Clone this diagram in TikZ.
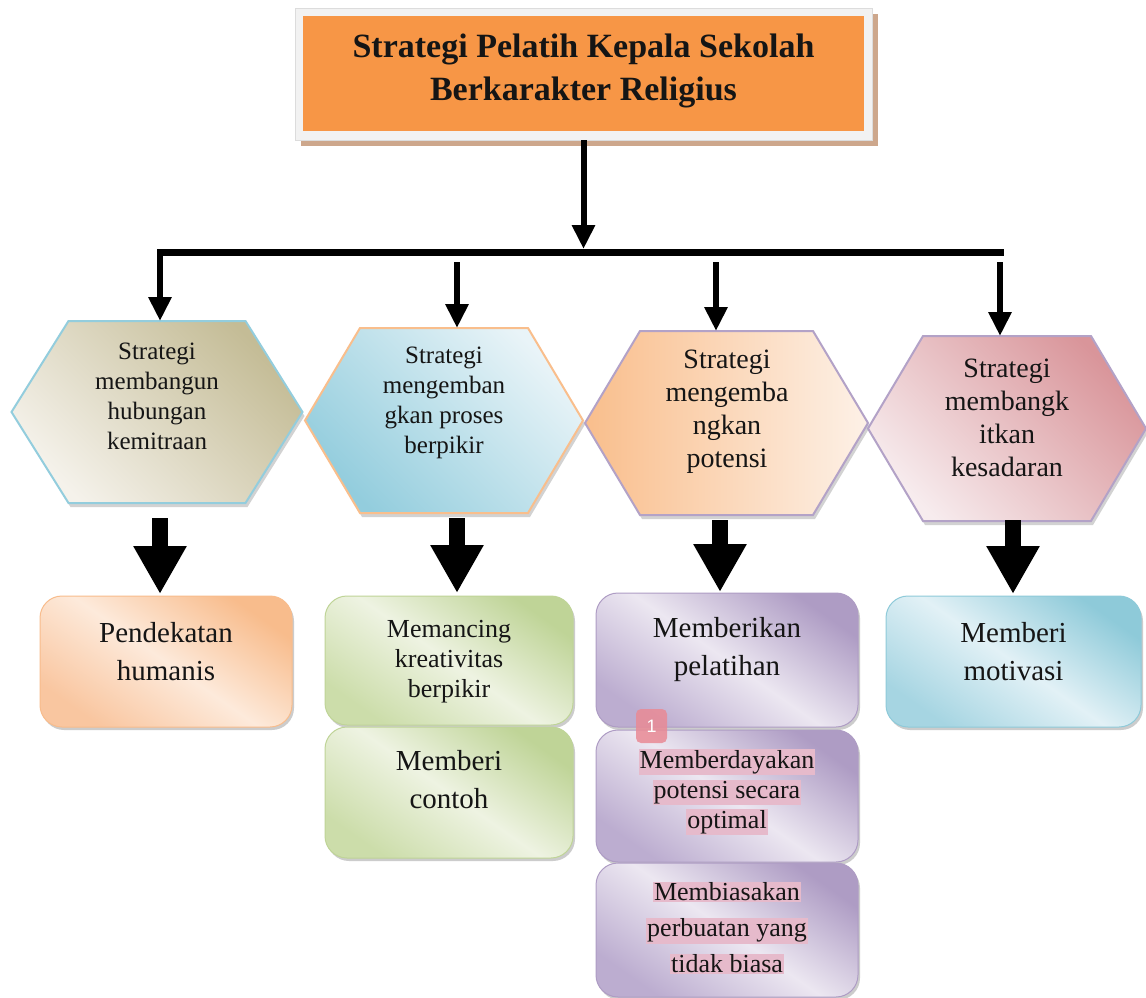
\documentclass[tikz,border=0pt]{standalone}
\usepackage{fontspec}
\setmainfont{Liberation Serif}
\newfontfamily\badgefont{Liberation Sans}
\usetikzlibrary{arrows.meta,shadows,calc}
\definecolor{txt}{HTML}{151515}
\definecolor{titleor}{HTML}{F79646}
\definecolor{frame}{HTML}{F2F2F2}
\definecolor{frameline}{HTML}{DCDCDC}
\definecolor{titleshadow}{HTML}{CDA78C}
\definecolor{tanD}{HTML}{C4BC96}
\definecolor{tanL}{HTML}{F5F2EB}
\definecolor{blueD}{HTML}{93CDDD}
\definecolor{blueL}{HTML}{E9F4F8}
\definecolor{peachD}{HTML}{F9BE8C}
\definecolor{peachL}{HTML}{FDF1E7}
\definecolor{pinkD}{HTML}{D9959A}
\definecolor{pinkL}{HTML}{F7ECEE}
\definecolor{lav}{HTML}{B3A2C7}
\definecolor{orD}{HTML}{F8BC8C}
\definecolor{orM}{HTML}{FDEADB}
\definecolor{orB}{HTML}{F9C6A0}
\definecolor{grD}{HTML}{BFD497}
\definecolor{grM}{HTML}{EEF3E2}
\definecolor{grB}{HTML}{CCDDAA}
\definecolor{puD}{HTML}{AE9CC4}
\definecolor{puM}{HTML}{ECE7F1}
\definecolor{puB}{HTML}{BCADD0}
\definecolor{bbD}{HTML}{8ECAD9}
\definecolor{bbM}{HTML}{E2F1F6}
\definecolor{bbB}{HTML}{A6D5E2}
\definecolor{hl}{HTML}{E6BACB}
\definecolor{badge}{HTML}{E98A95}
\newcommand\hexshape[6]{\path[#6] (#1-#3,#2) -- (#1-#3+#5,#2-#4) -- (#1+#3-#5,#2-#4) -- (#1+#3,#2) -- (#1+#3-#5,#2+#4) -- (#1-#3+#5,#2+#4) -- cycle;}
\newcommand\hlt[1]{{\setlength{\fboxsep}{1pt}\colorbox{hl}{#1}}}
\tikzset{
  thinarr/.style={line width=6pt, -{Triangle[width=22pt,length=24pt]}},
  fatarr/.style={line width=16pt, -{Triangle[width=50pt,length=48pt]}},
  hexbase/.style={line width=2pt, drop shadow={shadow xshift=2pt,shadow yshift=-4pt,opacity=.35}},
  boxbase/.style 2 args={rounded corners=22pt, line width=1pt, minimum width=#1, minimum height=#2, inner sep=0pt,
     drop shadow={shadow xshift=2pt,shadow yshift=-3pt,opacity=.4}},
  hext/.style={align=center, text=txt, inner sep=0pt, font=\fontsize{25}{30}\selectfont},
  hextb/.style={align=center, text=txt, inner sep=0pt, font=\fontsize{28}{33}\selectfont},
  bigt/.style={align=center, text=txt, inner sep=0pt, font=\fontsize{29}{38}\selectfont},
  smallt/.style={align=center, text=txt, inner sep=0pt, font=\fontsize{26}{30}\selectfont},
}
\begin{document}
\begin{tikzpicture}[x=1pt,y=-1pt]
\useasboundingbox[fill=white] (0,0) rectangle (1146,998);
% title
\node[draw=frameline, fill=frame, minimum width=577pt, minimum height=132pt, inner sep=0pt,
      drop shadow={shadow xshift=6pt,shadow yshift=-6pt,opacity=1,fill=titleshadow}] (tf) at (583.5,74) {};
\node[fill=titleor, minimum width=561pt, minimum height=115pt, inner sep=0pt] (tbox) at (583.5,73.5) {};
\node[align=center, text=txt, font=\fontsize{34}{43}\bfseries\selectfont] (title) at (583.5,71) {Strategi Pelatih Kepala Sekolah\\Berkarakter Religius};
% bar
\coordinate (barL) at (157,252);
\coordinate (barR) at (1004,252);
\draw[line width=7pt] (barL) -- (barR);
\draw[thinarr, shorten >=3pt] (tf.south) -- (tf.south |- barL);
% hexagons
\hexshape{157}{412}{145.5}{91}{57}{hexbase, draw=blueD, top color=tanD, bottom color=tanL, shading angle=-45}
\hexshape{444}{420.5}{139}{92.5}{55}{hexbase, draw=peachD, top color=blueL, bottom color=blueD, shading angle=-45}
\hexshape{726.5}{423}{141.5}{92}{55}{hexbase, draw=lav, left color=peachD, right color=peachL}
\hexshape{1007}{428.5}{139}{92.5}{55}{hexbase, draw=lav, top color=pinkD, bottom color=pinkL, shading angle=-45}
\node[hext] (h1) at (157,396) {Strategi\\membangun\\hubungan\\kemitraan};
\node[hext] (h2) at (444,403) {Strategi\\mengemban\\gkan proses\\berpikir};
\node[hextb] (h3) at (727,412) {Strategi\\mengemba\\ngkan\\potensi};
\node[hextb] (h4) at (1007,418) {Strategi\\membangk\\itkan\\kesadaran};
\coordinate (h1top) at (160,321);
\coordinate (h2top) at (457,328);
\coordinate (h3top) at (716,331);
\coordinate (h4top) at (1000,336);
\coordinate (a2s) at (457,262);
\coordinate (a3s) at (716,262);
\coordinate (a4s) at (1000,262);
\coordinate (a1s) at (160,252);
\draw[thinarr] (a1s) -- (h1top);
\draw[thinarr] (a2s) -- (h2top);
\draw[thinarr] (a3s) -- (h3top);
\draw[thinarr] (a4s) -- (h4top);
% boxes
\node[boxbase={252pt}{131pt}, draw=orD, top color=orD, bottom color=orB, middle color=orM, shading angle=-35] (b1) at (166,661.5) {};
\node[boxbase={248pt}{129pt}, draw=grD, top color=grD, bottom color=grB, middle color=grM, shading angle=-35] (b2a) at (449,660.5) {};
\node[boxbase={248pt}{131pt}, draw=grD, top color=grD, bottom color=grB, middle color=grM, shading angle=-35] (b2b) at (449,792.5) {};
\node[boxbase={262pt}{134pt}, draw=puD, top color=puD, bottom color=puB, middle color=puM, shading angle=-35] (b3a) at (727,660) {};
\node[boxbase={262pt}{132pt}, draw=puD, top color=puD, bottom color=puB, middle color=puM, shading angle=-35] (b3b) at (727,796) {};
\node[boxbase={262pt}{134pt}, draw=puD, top color=puD, bottom color=puB, middle color=puM, shading angle=-35] (b3c) at (727,930) {};
\node[boxbase={255pt}{131pt}, draw=bbD, top color=bbD, bottom color=bbB, middle color=bbM, shading angle=-35] (b4) at (1013.5,661.5) {};
\node[bigt] (t1) at (166,652) {Pendekatan\\humanis};
\node[smallt] (t2a) at (449,662) {Memancing\\kreativitas\\berpikir};
\node[bigt] (t2b) at (449,780) {Memberi\\contoh};
\node[bigt] (t3a) at (727,650) {Memberikan\\pelatihan};
\node[smallt] (t3b) at (727,792) {\hlt{Memberdayakan}\\\hlt{potensi secara}\\\hlt{optimal}};
\node[align=center, text=txt, inner sep=0pt, font=\fontsize{26}{36}\selectfont] (t3c) at (727,928) {\hlt{Membiasakan}\\\hlt{perbuatan yang}\\\hlt{tidak biasa}};
\node[bigt] (t4) at (1013.5,652) {Memberi\\motivasi};
\node[fill=badge, fill opacity=.85, text opacity=1, text=white, rounded corners=5pt, minimum width=31pt, minimum height=34pt, inner sep=0pt, font=\badgefont\fontsize{18}{20}\selectfont] (badge1) at (651.5,726) {1};
% fat arrows
\coordinate (f1s) at (160,518); \coordinate (f1e) at (160,594);
\coordinate (f2s) at (457,518); \coordinate (f2e) at (457,593);
\coordinate (f3s) at (720,520); \coordinate (f3e) at (720,592);
\coordinate (f4s) at (1013,520); \coordinate (f4e) at (1013,594);
\draw[fatarr] (f1s) -- (f1e);
\draw[fatarr] (f2s) -- (f2e);
\draw[fatarr] (f3s) -- (f3e);
\draw[fatarr] (f4s) -- (f4e);
\end{tikzpicture}
\end{document}
